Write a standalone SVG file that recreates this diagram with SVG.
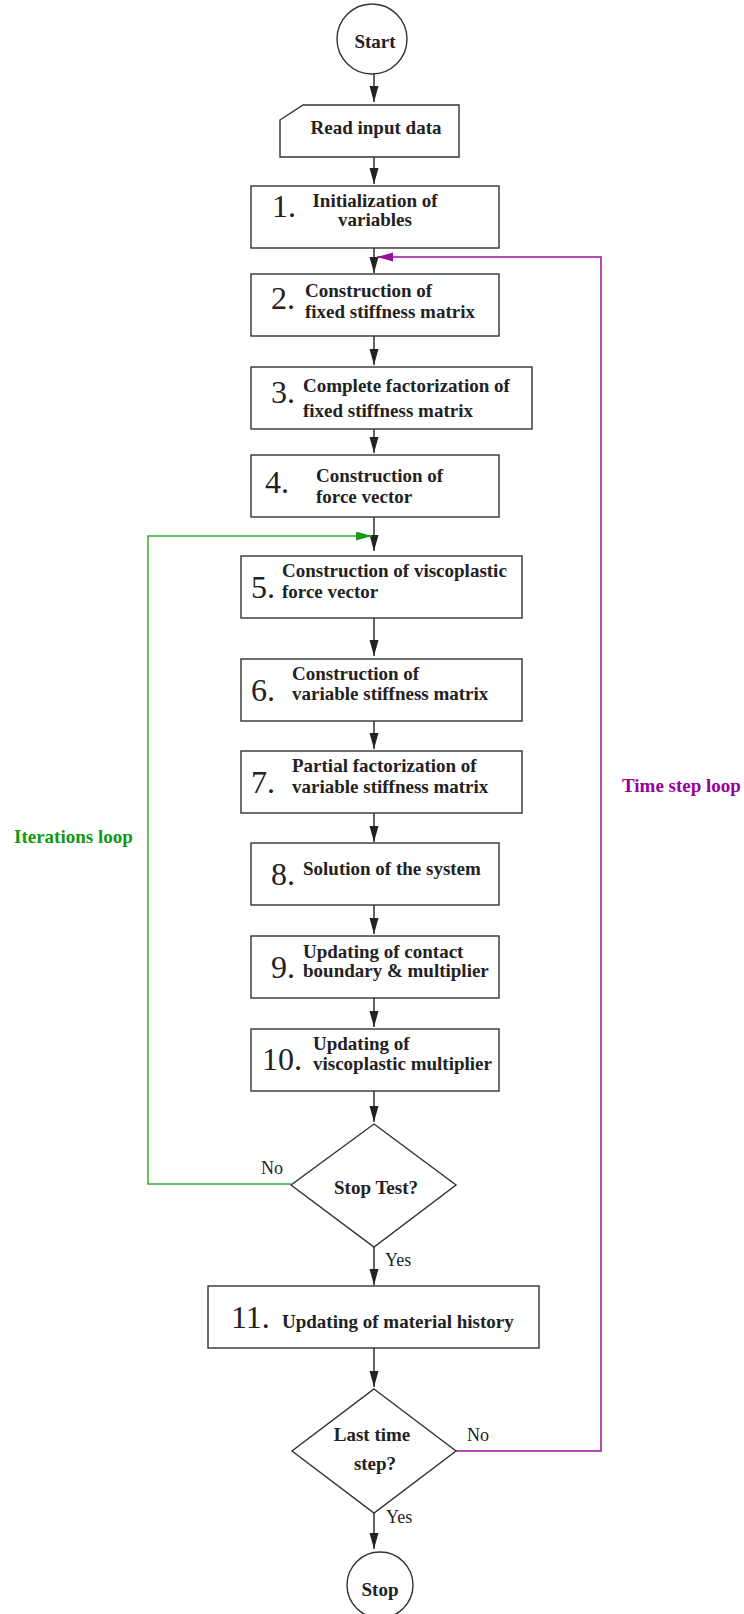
<svg xmlns="http://www.w3.org/2000/svg" width="744" height="1614" viewBox="0 0 744 1614">
<defs>
<style>
.box{fill:#fff;stroke:#333;stroke-width:1.4}
.t{font-family:"Liberation Serif","Times New Roman",serif;font-weight:bold;font-size:19px;fill:#222}
.n{font-family:"Liberation Serif","Times New Roman",serif;font-size:32px;fill:#222}
.l{font-family:"Liberation Serif","Times New Roman",serif;font-size:18px;fill:#222}
.c{stroke:#222;stroke-width:1.4;fill:none}
.g{stroke:#3aaa3a;stroke-width:1.5;fill:none}
.p{stroke:#9a109a;stroke-width:1.5;fill:none}
</style>
<marker id="ab" markerUnits="userSpaceOnUse" markerWidth="18" markerHeight="10" refX="16" refY="4.5" orient="auto"><path d="M0,0 L16,4.5 L0,9 z" fill="#222"/></marker>
<marker id="ag" markerUnits="userSpaceOnUse" markerWidth="18" markerHeight="10" refX="16" refY="4.5" orient="auto"><path d="M0,0 L16,4.5 L0,9 z" fill="#1a9a1a"/></marker>
<marker id="ap" markerUnits="userSpaceOnUse" markerWidth="18" markerHeight="10" refX="16" refY="4.5" orient="auto"><path d="M0,0 L16,4.5 L0,9 z" fill="#9a109a"/></marker>
</defs>
<rect width="744" height="1614" fill="#fff"/>

<g id="connectors">
<line class="c" x1="374" y1="74" x2="374" y2="102" marker-end="url(#ab)"/>
<line class="c" x1="374" y1="157" x2="374" y2="184" marker-end="url(#ab)"/>
<line class="c" x1="374" y1="248" x2="374" y2="273" marker-end="url(#ab)"/>
<line class="c" x1="374" y1="336" x2="374" y2="365" marker-end="url(#ab)"/>
<line class="c" x1="374" y1="429" x2="374" y2="453" marker-end="url(#ab)"/>
<line class="c" x1="374" y1="517" x2="374" y2="551" marker-end="url(#ab)"/>
<line class="c" x1="374" y1="618" x2="374" y2="656" marker-end="url(#ab)"/>
<line class="c" x1="374" y1="721" x2="374" y2="749" marker-end="url(#ab)"/>
<line class="c" x1="374" y1="813" x2="374" y2="842" marker-end="url(#ab)"/>
<line class="c" x1="374" y1="905" x2="374" y2="934" marker-end="url(#ab)"/>
<line class="c" x1="374" y1="998" x2="374" y2="1027" marker-end="url(#ab)"/>
<line class="c" x1="374" y1="1091" x2="374" y2="1122" marker-end="url(#ab)"/>
<line class="c" x1="374" y1="1247" x2="374" y2="1285" marker-end="url(#ab)"/>
<line class="c" x1="374" y1="1348" x2="374" y2="1387" marker-end="url(#ab)"/>
<line class="c" x1="374" y1="1513" x2="374" y2="1549" marker-end="url(#ab)"/>
<polyline class="g" points="291,1184 148,1184 148,536 372,536" marker-end="url(#ag)"/>
<polyline class="p" points="456,1451 601,1451 601,257 377,257" marker-end="url(#ap)"/>
<text class="l" x="261" y="1174">No</text>
<text class="l" x="385" y="1266">Yes</text>
<text class="l" x="467" y="1441">No</text>
<text class="l" x="386" y="1523">Yes</text>
<text class="t" x="14" y="843" style="fill:#119911">Iterations loop</text>
<text class="t" x="622" y="792" style="fill:#990099">Time step loop</text>
</g>

<g id="start">
<circle class="box" cx="372" cy="39" r="35"/>
<text class="t" x="375" y="48" text-anchor="middle">Start</text>
</g>
<g id="read">
<polygon class="box" points="280,120 303,105 459,105 459,157 280,157"/>
<text class="t" x="376" y="134" text-anchor="middle">Read input data</text>
</g>
<g id="n1">
<rect class="box" x="251" y="186" width="248" height="62"/>
<text class="n" x="272" y="217">1.</text>
<text class="t" x="375" y="207" text-anchor="middle">Initialization of</text>
<text class="t" x="375" y="226" text-anchor="middle">variables</text>
</g>
<g id="n2">
<rect class="box" x="251" y="274" width="248" height="62"/>
<text class="n" x="271" y="309">2.</text>
<text class="t" x="305" y="297">Construction of</text>
<text class="t" x="305" y="318">fixed stiffness matrix</text>
</g>
<g id="n3">
<rect class="box" x="251" y="367" width="281" height="62"/>
<text class="n" x="271" y="403">3.</text>
<text class="t" x="303" y="392">Complete factorization of</text>
<text class="t" x="303" y="417">fixed stiffness matrix</text>
</g>
<g id="n4">
<rect class="box" x="251" y="455" width="248" height="62"/>
<text class="n" x="265" y="493">4.</text>
<text class="t" x="316" y="482">Construction of</text>
<text class="t" x="316" y="503">force vector</text>
</g>
<g id="n5">
<rect class="box" x="241" y="556" width="281" height="62"/>
<text class="n" x="251" y="598">5.</text>
<text class="t" x="282" y="577">Construction of viscoplastic</text>
<text class="t" x="282" y="598">force vector</text>
</g>
<g id="n6">
<rect class="box" x="241" y="659" width="281" height="62"/>
<text class="n" x="251" y="701">6.</text>
<text class="t" x="292" y="680">Construction of</text>
<text class="t" x="292" y="700">variable stiffness matrix</text>
</g>
<g id="n7">
<rect class="box" x="241" y="751" width="281" height="62"/>
<text class="n" x="251" y="793">7.</text>
<text class="t" x="292" y="772">Partial factorization of</text>
<text class="t" x="292" y="793">variable stiffness matrix</text>
</g>
<g id="n8">
<rect class="box" x="251" y="843" width="248" height="62"/>
<text class="n" x="271" y="885">8.</text>
<text class="t" x="303" y="875">Solution of the system</text>
</g>
<g id="n9">
<rect class="box" x="251" y="936" width="248" height="62"/>
<text class="n" x="271" y="978">9.</text>
<text class="t" x="303" y="958">Updating of contact</text>
<text class="t" x="303" y="977">boundary &amp; multiplier</text>
</g>
<g id="n10">
<rect class="box" x="251" y="1029" width="248" height="62"/>
<text class="n" x="262" y="1070">10.</text>
<text class="t" x="313" y="1050">Updating of</text>
<text class="t" x="313" y="1070">viscoplastic multiplier</text>
</g>
<g id="stoptest">
<polygon class="box" points="374,1124 456,1185 374,1247 291,1185"/>
<text class="t" x="376" y="1194" text-anchor="middle">Stop Test?</text>
</g>
<g id="n11">
<rect class="box" x="208" y="1286" width="331" height="62"/>
<text class="n" x="231" y="1328">11.</text>
<text class="t" x="282" y="1328">Updating of material history</text>
</g>
<g id="lasttime">
<polygon class="box" points="374,1389 456,1451 374,1513 292,1451"/>
<text class="t" x="372" y="1441" text-anchor="middle">Last time</text>
<text class="t" x="375" y="1470" text-anchor="middle">step?</text>
</g>
<g id="stop">
<circle class="box" cx="380" cy="1585" r="33"/>
<text class="t" x="380" y="1596" text-anchor="middle">Stop</text>
</g>
</svg>
